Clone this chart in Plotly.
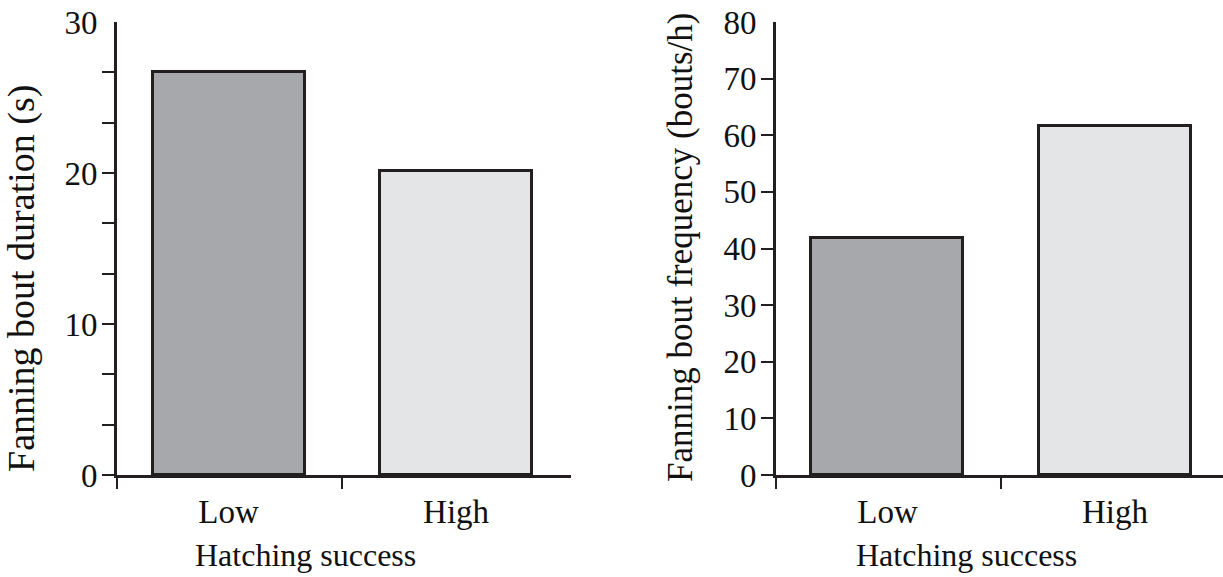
import plotly.graph_objects as go

categories = ["Low", "High"]
cat_pos = [0, 1]
duration_values = [26.7, 20.1]
frequency_values = [41.9, 61.7]
bar_colors = ["#a7a8ab", "#e4e5e6"]

left_y_labels = [0, 10, 20, 30]
left_y_ticks = [0, 3.333, 6.667, 10, 13.333, 16.667, 20, 23.333, 26.667]
right_y_labels = [0, 10, 20, 30, 40, 50, 60, 70, 80]
right_y_ticks = [0, 10, 20, 30, 40, 50, 60, 70]

FONT = "Liberation Serif"
INK = "#231f20"
TICK_FS = 33

fig = go.Figure()
fig.add_trace(go.Bar(x=cat_pos, y=duration_values, width=0.668, marker=dict(color=bar_colors, line=dict(color=INK, width=3)),
                     xaxis="x", yaxis="y", showlegend=False, hoverinfo="skip"))
fig.add_trace(go.Bar(x=cat_pos, y=frequency_values, width=0.668, marker=dict(color=bar_colors, line=dict(color=INK, width=3)),
                     xaxis="x2", yaxis="y2", showlegend=False, hoverinfo="skip"))

W, H = 1223, 577
ydom = [1 - 475 / H, 1 - 22 / H]

def xax(domain, rng, anchor):
    return dict(domain=domain, range=rng, anchor=anchor, automargin=False, showline=True, linecolor=INK, linewidth=3,
                tickmode="array", tickvals=cat_pos, ticktext=categories, ticks="",
                ticklabelstandoff=5,
                minor=dict(tickmode="array", tickvals=[rng[0], 0.5], ticks="outside", ticklen=11, tickwidth=2, tickcolor=INK),
                showgrid=False, zeroline=False, tickfont=dict(family=FONT, size=TICK_FS, color="#111"), fixedrange=True)

def yax(anchor, rng, labels, ticks):
    return dict(domain=ydom, range=rng, anchor=anchor, automargin=False, showline=True, linecolor=INK, linewidth=3,
                tickmode="array", tickvals=labels, ticktext=[str(v) for v in labels], ticks="",
                ticklabelstandoff=10,
                minor=dict(tickmode="array", tickvals=ticks, ticks="outside", ticklen=12, tickwidth=2, tickcolor=INK),
                showgrid=False, zeroline=False, tickfont=dict(family=FONT, size=TICK_FS, color="#111"), fixedrange=True)

fig.update_layout(
    width=W, height=H, margin=dict(l=0, r=0, t=0, b=0, autoexpand=False),
    paper_bgcolor="white", plot_bgcolor="white",
    xaxis=xax([117 / W, 571 / W], [-0.49, 1.505], "y"),
    yaxis=yax("x", [0, 30], left_y_labels, left_y_ticks),
    xaxis2=xax([776 / W, 1.0], [-0.49, 1.475], "y2"),
    yaxis2=yax("x2", [0, 80], right_y_labels, right_y_ticks),
    bargap=0,
)

def ann(text, x, y, size, angle=0):
    fig.add_annotation(text=text, textangle=angle, x=x / W, y=1 - y / H, xref="paper", yref="paper",
                       showarrow=False, font=dict(family=FONT, size=size, color="#111"),
                       xanchor="center", yanchor="middle")

ann("Fanning bout duration (s)", 22, 279, 38, -90)
ann("Fanning bout frequency (bouts/h)", 681, 247, 35, -90)
ann("Hatching success", 305, 555, 32)
ann("Hatching success", 966, 555, 32)

fig.write_html("out.html", config={"displayModeBar": False},
               post_script="document.body.style.margin='0px';document.body.style.overflow='hidden';"
                           "document.documentElement.style.overflow='hidden';")
